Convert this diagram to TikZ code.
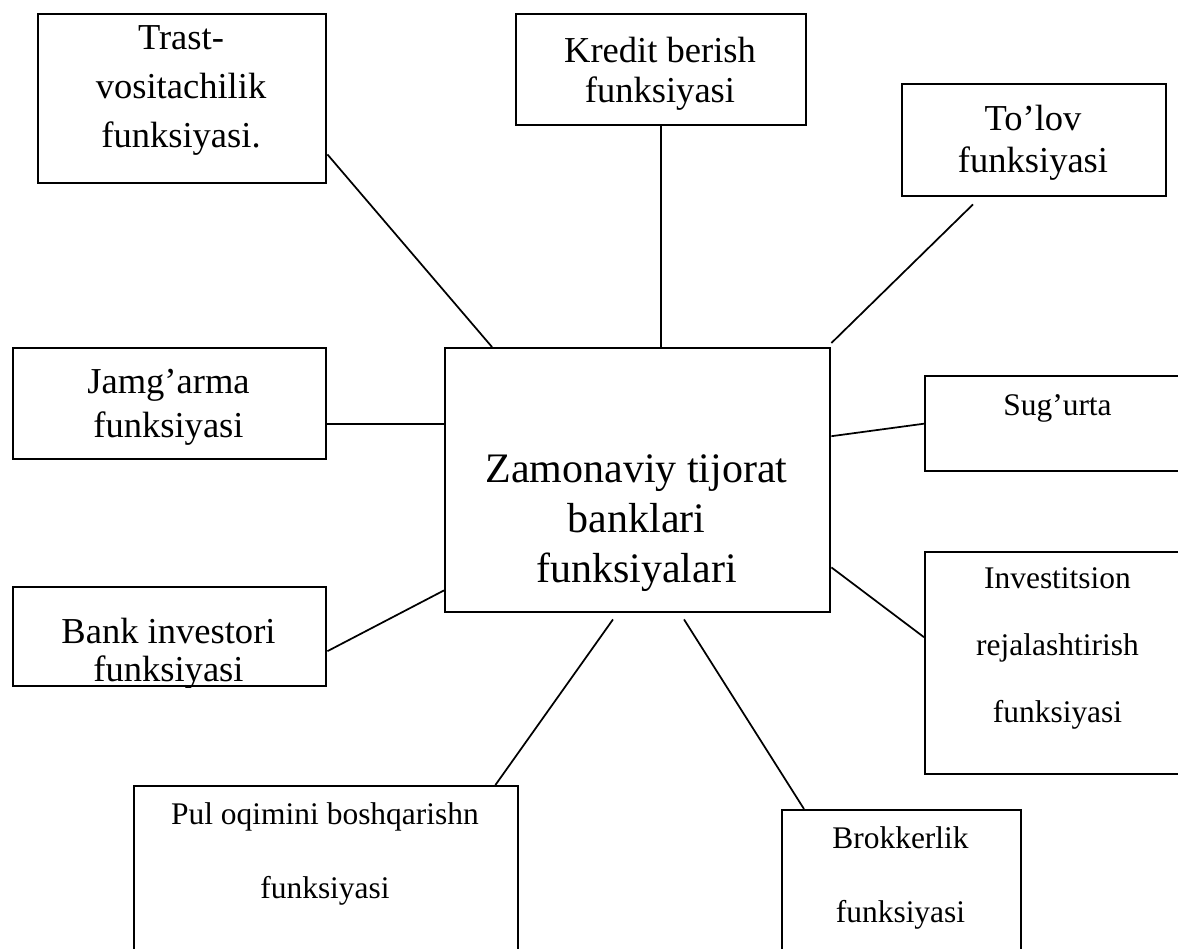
\documentclass[tikz,border=0pt]{standalone}
\usepackage{fontspec}
\setmainfont{Liberation Serif}
\usetikzlibrary{calc}
\tikzset{
  box/.style 2 args={draw, line width=1.8pt, rectangle, inner sep=0pt, anchor=north west,
    minimum width=#1*0.75pt, minimum height=#2*0.75pt},
  link/.style={line width=1.3pt},
  lbl/.style={anchor=base, align=center, inner sep=0pt},
  big/.style={font=\fontsize{31.5}{37.5}\selectfont},
  mid/.style={font=\fontsize{27.4}{#1}\selectfont},
  sml/.style={font=\fontsize{23.6}{#1}\selectfont}
}
\begin{document}
\begin{tikzpicture}[x=0.75pt, y=-0.75pt]
\useasboundingbox (0,0) rectangle (1178,949);
\clip (0,0) rectangle (1178,949);

% boxes
\node[box={288}{169}] (trast) at (37,13) {};
\node[box={290}{111}] (kredit) at (515,13) {};
\node[box={264}{112}] (tolov) at (901,83) {};
\node[box={313}{111}] (jam) at (12,347) {};
\node[box={313}{99}] (bank) at (12,586) {};
\node[box={385}{264}] (center) at (444,347) {};
\node[box={300}{95}] (sug) at (924,375) {};
\node[box={300}{222}] (inv) at (924,551) {};
\node[box={384}{200}] (pul) at (133,785) {};
\node[box={239}{200}] (brok) at (781,809) {};

% texts (anchored at the baseline of the last line)
\node[lbl, mid=36.4] (ttrast) at (181,147) {Trast-\\vositachilik\\funksiyasi.};
\node[lbl, mid=30] (tkredit) at (660,103) {Kredit berish\\funksiyasi};
\node[lbl, mid=31.5] (ttolov) at (1033,172) {To’lov\\funksiyasi};
\node[lbl, mid=33] (tjam) at (168.5,437) {Jamg’arma\\funksiyasi};
\begin{scope}
\clip (bank.north west) rectangle (bank.south east);
\node[lbl, mid=27.8] (tbank) at (168.5,681) {Bank investori\\funksiyasi};
\end{scope}
\node[lbl, big] (tcenter) at (636.5,582) {Zamonaviy tijorat\\banklari\\funksiyalari};
\node[lbl, sml=20] (tsug) at (1057.5,415) {Sug’urta};
\node[lbl, sml=50] (tinv) at (1057.5,722) {Investitsion\\rejalashtirish\\funksiyasi};
\node[lbl, sml=55] (tpul) at (325,898) {Pul oqimini boshqarishn\\funksiyasi};
\node[lbl, sml=55.5] (tbrok) at (900.5,922) {Brokkerlik\\funksiyasi};

% connectors
\draw[link] ($(trast.south east)+(0,-30)$) -- ($(center.north west)+(48,0)$);
\draw[link] (kredit.south) -- (kredit.south |- center.north);
\draw[link] ($(tolov.south west)+(72,7)$) -- ($(center.north east)+(0,-4)$);
\draw[link] ($(jam.east)+(0,20)$) coordinate (j1) -- (center.west |- j1);
\draw[link] ($(center.east)+(0,-44)$) -- (sug.west);
\draw[link] ($(bank.east)+(0,14.5)$) -- ($(center.south west)+(0,-23)$);
\draw[link] ($(center.south east)+(0,-46)$) -- ($(inv.west)+(0,-26)$);
\draw[link] ($(pul.north east)+(-24,0)$) -- ($(center.south west)+(169,6)$);
\draw[link] ($(center.south west)+(240,6)$) -- ($(brok.north west)+(23,0)$);
\end{tikzpicture}
\end{document}
